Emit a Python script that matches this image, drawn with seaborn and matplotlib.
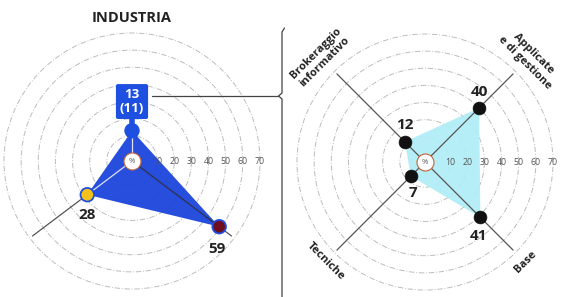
import numpy as np
import matplotlib
matplotlib.use("Agg")
import matplotlib.pyplot as plt
import seaborn as sns
from matplotlib.lines import Line2D

sns.set_theme(style="white")
plt.rcParams['font.family'] = ['Open Sans', 'DejaVu Sans']

# ---------------- data ----------------
left_title = "INDUSTRIA"
left_values = [13, 28, 59]
left_prev_value = 11
right_categories = ["Brokeraggio\ninformativo", "Applicate\ne di gestione", "Tecniche", "Base"]
right_values = [12, 40, 7, 41]
ring_ticks = [10, 20, 30, 40, 50, 60, 70]

# ---------------- layout / style ----------------
left_angles = np.deg2rad([90, 217, 323])
right_angles = np.deg2rad([135, 45, 225, 315])
RMIN, RMAX = -4.67, 75
AXIS_END = 68
W, H = 563, 297
BLUE = "#1d4fe0"

fig = plt.figure(figsize=(5.63, 2.97), dpi=100)


def polar_at(cx, cy, R=136.6):
    ax = fig.add_axes([(cx - R) / W, (H - cy - R) / H, 2 * R / W, 2 * R / H],
                      projection="polar")
    ax.set_ylim(RMIN, RMAX)
    ax.set_yticks(ring_ticks)
    ax.set_yticklabels([])
    ax.set_xticks([])
    ax.yaxis.grid(True, color="#b8b8b8", linestyle=(0, (6, 2, 1, 2)), linewidth=0.65)
    ax.spines["polar"].set_visible(False)
    ax.patch.set_alpha(0)
    for t in ring_ticks:
        ax.text(0, t, str(t), ha="center", va="center", fontsize=6.3,
                color="#555555", zorder=6)
    # centre circle
    ax.scatter([0], [RMIN], s=150, c="white", edgecolors="#c0643c",
               linewidths=0.8, zorder=7, clip_on=False)
    ax.text(0, RMIN, "%", ha="center", va="center", fontsize=5.5,
            color="#555555", zorder=8)
    return ax


# ---------------- left chart ----------------
axL = polar_at(132, 161)
for a in left_angles[1:]:
    axL.plot([a, a], [RMIN, AXIS_END], color="#555555", lw=0.9, zorder=0.9)
axL.fill(left_angles, left_values, color="#1b44dc", alpha=0.95, lw=0, zorder=1)
for a, v, c in zip(left_angles, left_values, ["white", "white", "#333333"]):
    axL.plot([a, a], [RMIN, v], color=c, lw=0.9, alpha=0.85, zorder=2)
sns.scatterplot(x=left_angles, y=left_values, hue=["a", "b", "c"],
                palette=[BLUE, "#f2c21b", "#6e0f1f"], s=95,
                edgecolor=BLUE, linewidth=1.3, legend=False, ax=axL, zorder=4)
axL.set_xlabel("")
axL.set_ylabel("")
axL.annotate(f"{left_values[0]}\n({left_prev_value})",
             (left_angles[0], left_values[0]), xytext=(0, 21),
             textcoords="offset points", ha="center", va="center",
             color="white", fontsize=9.5, fontweight="bold", linespacing=1.1,
             bbox=dict(boxstyle="round,pad=0.3,rounding_size=0.15", fc=BLUE, ec="none"),
             arrowprops=dict(arrowstyle="-", color=BLUE, lw=4, shrinkA=0, shrinkB=0),
             zorder=5)
for a, v, off in zip(left_angles[1:], left_values[1:], [(0, -14.4), (-1.5, -16)]):
    axL.annotate(str(v), (a, v), xytext=off, textcoords="offset points",
                 ha="center", va="center", fontsize=11, fontweight="bold",
                 color="#222222", zorder=6)
fig.text(132 / W, 1 - 18 / H, left_title, ha="center", va="center",
         fontsize=10.5, fontweight="bold", color="#222222")

# ---------------- right chart ----------------
axR = polar_at(425, 162)
axR.fill(right_angles[[0, 1, 3, 2]], np.array(right_values)[[0, 1, 3, 2]],
         color="#aeedf7", alpha=0.9, lw=0, zorder=1)
for a in right_angles:
    axR.plot([a, a], [RMIN, AXIS_END], color="#555555", lw=0.9, zorder=2)
sns.scatterplot(x=right_angles, y=right_values, color="#111111", s=85,
                edgecolor="#111111", linewidth=0.5, legend=False, ax=axR, zorder=4)
axR.set_xlabel("")
axR.set_ylabel("")
for a, v, off in zip(right_angles, right_values,
                     [(0, 12), (0, 11.5), (1.5, -12), (-1, -13.5)]):
    axR.annotate(str(v), (a, v), xytext=off, textcoords="offset points",
                 ha="center", va="center", fontsize=11, fontweight="bold",
                 color="#222222", zorder=6)
for a, lab, r, rot in zip(right_angles, right_categories,
                          [81.5, 81, 77, 78], [45, -45, -45, 45]):
    axR.text(a, r, lab, ha="center", va="center", rotation=rot,
             rotation_mode="anchor", fontsize=8, fontweight="bold",
             color="#222222", linespacing=1.15)

# ---------------- connector / divider ----------------
def px(x, y):
    return x / W, 1 - y / H

xs, ys = zip(*[px(152, 96), px(278, 96)])
fig.add_artist(Line2D(xs, ys, color="#444444", lw=0.9))
pts = [px(282, 297), px(282, 99), px(278.5, 96), px(282, 93), px(282, 32), px(284.5, 28)]
xs, ys = zip(*pts)
fig.add_artist(Line2D(xs, ys, color="#444444", lw=0.9))

fig.savefig("out.png", dpi=100)
